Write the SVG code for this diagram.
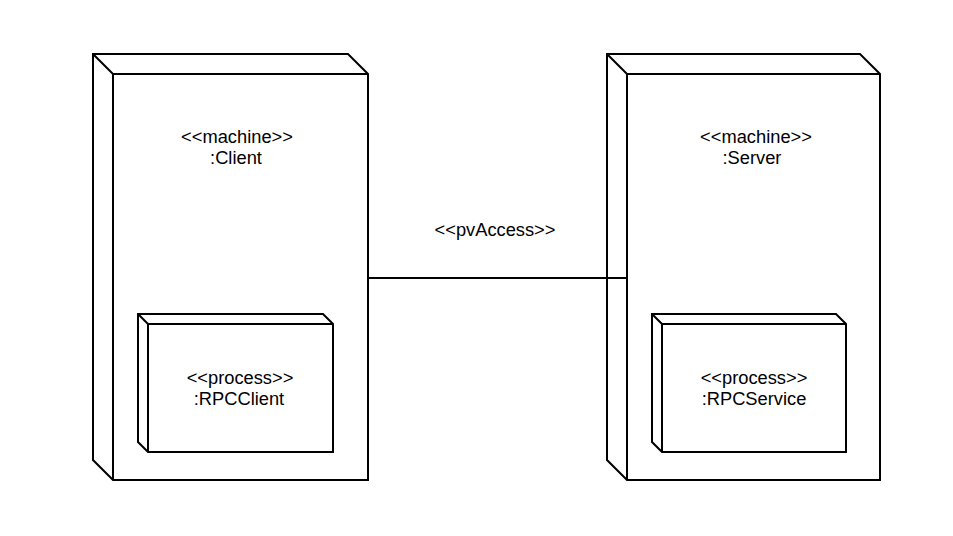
<svg xmlns="http://www.w3.org/2000/svg" width="953" height="536" viewBox="0 0 953 536">
<style>
.n{fill:#fff;stroke:#000;stroke-width:2;stroke-linejoin:miter}
.l{fill:none;stroke:#000;stroke-width:2}
text{font-family:"Liberation Sans",Arial,sans-serif;font-size:18.3px;fill:#000;text-anchor:middle}
</style>
<rect width="953" height="536" fill="#fff"/>
<g id="client">
<path class="n" d="M93,54 L348,54 L368,74 L368,480 L113,480 L93,460 Z"/>
<path class="l" d="M93,54 L113,74 L368,74 M113,74 L113,480"/>
<text x="237" y="143">&lt;&lt;machine&gt;&gt;</text>
<text x="236" y="164">:Client</text>
</g>
<g id="rpcclient">
<path class="n" d="M138,314 L323,314 L333,324 L333,452 L148,452 L138,442 Z"/>
<path class="l" d="M138,314 L148,324 L333,324 M148,324 L148,452"/>
<text x="240" y="384">&lt;&lt;process&gt;&gt;</text>
<text x="239" y="405">:RPCClient</text>
</g>
<g id="server">
<path class="n" d="M607,54 L860,54 L880,74 L880,480 L627,480 L607,460 Z"/>
<path class="l" d="M607,54 L627,74 L880,74 M627,74 L627,480"/>
<text x="756" y="143">&lt;&lt;machine&gt;&gt;</text>
<text x="752" y="164">:Server</text>
</g>
<g id="rpcservice">
<path class="n" d="M652,314 L836,314 L846,324 L846,452 L662,452 L652,442 Z"/>
<path class="l" d="M652,314 L662,324 L846,324 M662,324 L662,452"/>
<text x="754" y="384">&lt;&lt;process&gt;&gt;</text>
<text x="754" y="405">:RPCService</text>
</g>
<g id="connectors">
<line class="l" x1="368" y1="278" x2="627" y2="278"/>
<text x="495" y="236">&lt;&lt;pvAccess&gt;&gt;</text>
</g>
</svg>
